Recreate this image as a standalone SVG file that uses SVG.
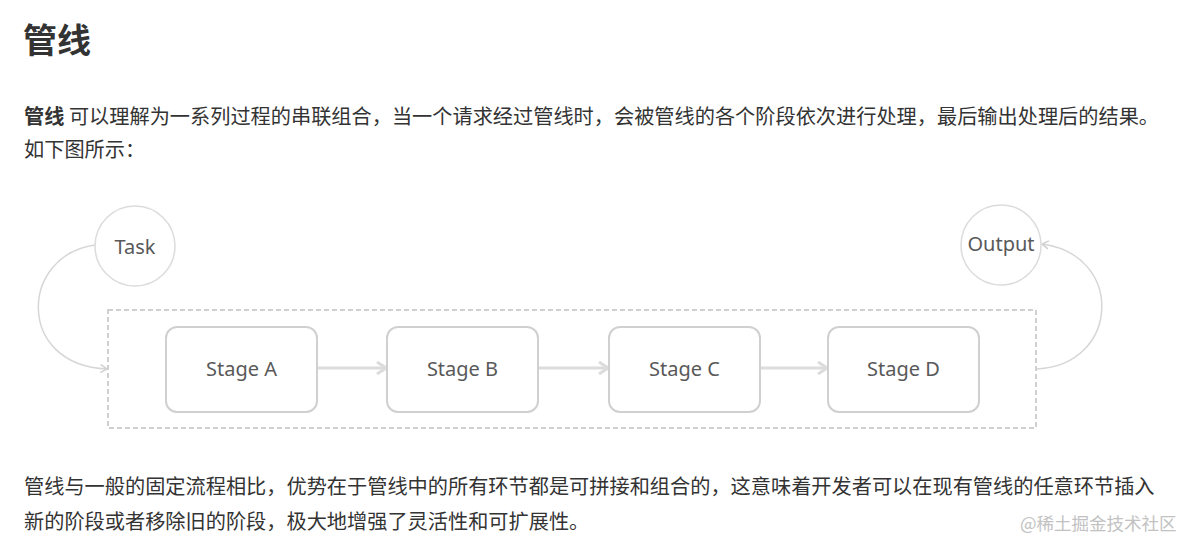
<svg xmlns="http://www.w3.org/2000/svg" width="1197" height="550" viewBox="0 0 1197 550">
<defs>
<style>
.body{font-family:"Noto Sans CJK SC","Noto Sans",sans-serif;font-size:20.2px;fill:#333}
.title{font-family:"Noto Sans CJK SC","Noto Sans",sans-serif;font-size:34px;font-weight:bold;fill:#333}
.lbl{font-family:"Noto Sans","Open Sans",sans-serif;font-size:20px;fill:#595959;text-anchor:middle;dominant-baseline:central}
.stage{fill:#fff;stroke:#d0d0d0;stroke-width:2}
.circ{fill:#fff;stroke:#dcdcdc;stroke-width:1.5}
.flow{fill:none;stroke:#dcdcdc;stroke-width:3}
.curve{fill:none;stroke:#d6d6d6;stroke-width:1.5}
.wm{font-family:"Noto Sans CJK SC","Noto Sans",sans-serif;font-size:17.5px;fill:#c2c2c2}
</style>
<marker id="big" viewBox="0 0 12 14" refX="11" refY="7" markerWidth="12" markerHeight="14" markerUnits="userSpaceOnUse" orient="auto">
<path d="M2,1 L11,7 L2,13" fill="none" stroke="#dcdcdc" stroke-width="3"/>
</marker>
<marker id="small" viewBox="0 0 8 10" refX="7.5" refY="5" markerWidth="8" markerHeight="10" markerUnits="userSpaceOnUse" orient="auto">
<path d="M1,1 L7.5,5 L1,9" fill="none" stroke="#d0d0d0" stroke-width="1.5"/>
</marker>
</defs>
<rect width="1197" height="550" fill="#fff"/>
<text class="title" x="23" y="53">管线</text>
<text class="body" x="24" y="124"><tspan font-weight="bold">管线</tspan> 可以理解为一系列过程的串联组合，当一个请求经过管线时，会被管线的各个阶段依次进行处理，最后输出处理后的结果。</text>
<text class="body" x="24" y="157">如下图所示：</text>
<text class="body" x="24" y="494">管线与一般的固定流程相比，优势在于管线中的所有环节都是可拼接和组合的，这意味着开发者可以在现有管线的任意环节插入</text>
<text class="body" x="24" y="529">新的阶段或者移除旧的阶段，极大地增强了灵活性和可扩展性。</text>
<text class="wm" x="1020" y="530">@稀土掘金技术社区</text>
<rect id="pipeline" x="108" y="310" width="928" height="118" fill="none" stroke="#d0d0d0" stroke-width="2" stroke-dasharray="5 3"/>
<g id="connectors">
<path class="curve" d="M95,245 C20,255 15,365 107,369" marker-end="url(#small)"/>
<path class="curve" d="M1037,369 C1120,365 1125,255 1042,244" marker-end="url(#small)"/>
<line class="flow" x1="317" y1="368" x2="386" y2="368" marker-end="url(#big)"/>
<line class="flow" x1="538" y1="368" x2="608" y2="368" marker-end="url(#big)"/>
<line class="flow" x1="760" y1="368" x2="827" y2="368" marker-end="url(#big)"/>
</g>
<g id="task"><circle class="circ" cx="135" cy="246" r="40"/><text class="lbl" x="135" y="246">Task</text></g>
<g id="output"><circle class="circ" cx="1001" cy="245" r="40"/><text class="lbl" x="1001" y="243">Output</text></g>
<g id="stageA"><rect class="stage" x="166" y="327" width="151" height="85" rx="11"/><text class="lbl" x="241.5" y="368">Stage A</text></g>
<g id="stageB"><rect class="stage" x="387" y="327" width="151" height="85" rx="11"/><text class="lbl" x="462.5" y="368">Stage B</text></g>
<g id="stageC"><rect class="stage" x="609" y="327" width="151" height="85" rx="11"/><text class="lbl" x="684.5" y="368">Stage C</text></g>
<g id="stageD"><rect class="stage" x="828" y="327" width="151" height="85" rx="11"/><text class="lbl" x="903.5" y="368">Stage D</text></g>
</svg>
